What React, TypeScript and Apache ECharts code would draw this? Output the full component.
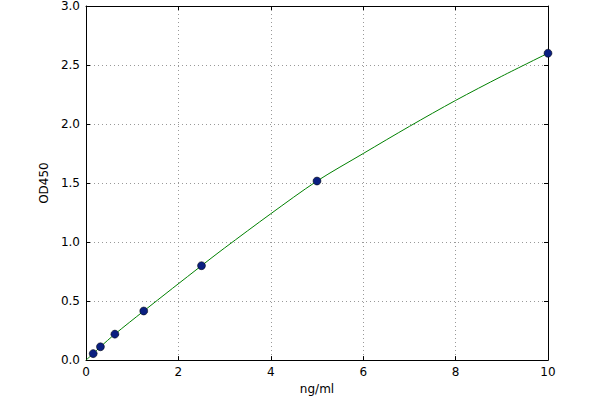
import React, { useEffect, useRef } from "react";
import * as echarts from "echarts";

const concentrations = [0.156, 0.3125, 0.625, 1.25, 2.5, 5, 10];
const od450 = [0.055, 0.113, 0.22, 0.416, 0.8, 1.517, 2.6];
// fitted curve
const curveX = [0, 0.156, 0.3125, 0.625, 1.25, 2.5, 3, 4, 5, 6, 7, 8, 9, 10];
const curveY = [0.0, 0.055, 0.113, 0.22, 0.416, 0.8, 0.95, 1.24, 1.517, 1.75, 1.98, 2.2, 2.405, 2.6];
const xTicks = { min: 0, max: 10, interval: 2 };
const yTicks = { min: 0, max: 3, interval: 0.5 };

const FONT = "DejaVu Sans";

export default function App() {
  const ref = useRef<HTMLDivElement>(null);
  useEffect(() => {
    if (!ref.current) return;
    const chart = echarts.init(ref.current, undefined, { renderer: "svg" });
    const gridLine = { show: true, lineStyle: { color: "#999", type: [1, 3] as any, width: 1 } };
    const tick = { show: true, inside: true, length: 4, lineStyle: { color: "#000" } };
    const line = { show: true, onZero: false, lineStyle: { color: "#000", width: 1 } };
    const label = { color: "#000", fontFamily: FONT, fontSize: 12 };
    chart.setOption({
      animation: false,
      backgroundColor: "#fff",
      grid: { left: 86, right: 52, top: 6, bottom: 36, show: false },
      xAxis: [
        {
          type: "value",
          ...xTicks,
          position: "bottom",
          axisLine: line,
          axisTick: tick,
          splitLine: gridLine,
          axisLabel: { ...label, margin: 6 },
          name: "ng/ml",
          nameLocation: "middle",
          nameGap: 21,
          nameTextStyle: { ...label },
        },
        {
          type: "value",
          ...xTicks,
          position: "top",
          axisLine: line,
          axisTick: tick,
          splitLine: { show: false },
          axisLabel: { show: false },
        },
      ],
      yAxis: [
        {
          type: "value",
          ...yTicks,
          position: "left",
          axisLine: line,
          axisTick: tick,
          splitLine: gridLine,
          axisLabel: { ...label, margin: 6, formatter: (v: number) => v.toFixed(1) },
          name: "OD450",
          nameLocation: "middle",
          nameGap: 32,
          nameTextStyle: { ...label },
        },
        {
          type: "value",
          ...yTicks,
          position: "right",
          axisLine: line,
          axisTick: tick,
          splitLine: { show: false },
          axisLabel: { show: false },
        },
      ],
      series: [
        {
          type: "line",
          data: curveX.map((x, i) => [x, curveY[i]]),
          smooth: 0.3,
          showSymbol: false,
          lineStyle: { color: "#008000", width: 1 },
          z: 2,
        },
        {
          type: "scatter",
          data: concentrations.map((x, i) => [x, od450[i]]),
          symbolSize: 8,
          itemStyle: { color: "#0a1f80", borderColor: "#000", borderWidth: 0.5, opacity: 1 },
          z: 3,
        },
      ],
    });
    return () => chart.dispose();
  }, []);
  return (
    <div
      ref={ref}
      style={{ position: "fixed", left: 0, top: 0, width: 600, height: 400 }}
    />
  );
}
